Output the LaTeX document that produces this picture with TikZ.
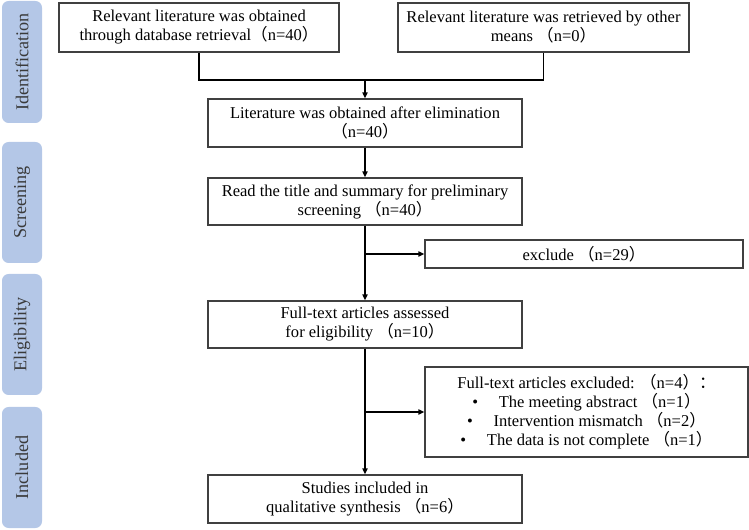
\documentclass[tikz,border=0pt]{standalone}
\usepackage{fontspec}
\setmainfont{Liberation Serif}
\newfontfamily\cjk{Noto Sans CJK SC}
\usetikzlibrary{arrows.meta}
\newcommand{\lp}{{\cjk （}}
\newcommand{\rp}{{\cjk ）}}
\newcommand{\fc}{{\cjk ：}}
\definecolor{phasefill}{HTML}{B4C7E7}
\definecolor{phasetext}{HTML}{3A3A3A}
\definecolor{boxline}{HTML}{404040}
\tikzset{
  box/.style={draw=boxline, line width=0.85pt, fill=white, align=center, inner sep=0pt,
    font=\fontsize{12.4}{14.25}\selectfont},
  phaselabel/.style={text=phasetext, font=\fontsize{13.6}{16}\selectfont, rotate=90},
  conn/.style={draw=black, line width=1.1pt},
  arr/.style={conn, -{Triangle[length=4.5pt, width=3.8pt]}}
}
\begin{document}
\begin{tikzpicture}[x=0.75pt, y=-0.75pt]
\useasboundingbox (0,0) rectangle (749,530);
% phase bars
\fill[phasefill, rounded corners=5pt] (2,1) rectangle (42,123);
\fill[phasefill, rounded corners=5pt] (2,142) rectangle (42,263);
\fill[phasefill, rounded corners=5pt] (2,274) rectangle (42,395);
\fill[phasefill, rounded corners=5pt] (2,407) rectangle (42,528);
\node[phaselabel] (p1) at (22,62) {Identification};
\node[phaselabel] (p2) at (22,202.5) {Screening};
\node[phaselabel] (p3) at (22,334.5) {Eligibility};
\node[phaselabel] (p4) at (22,467.5) {Included};
% boxes
\node[box, minimum width=210pt, minimum height=36.75pt] (b1) at (199,27.5)
  {Relevant literature was obtained\\through database retrieval\lp n=40\rp};
\node[box, minimum width=218.25pt, minimum height=36.75pt] (b2) at (543.5,27.5)
  {Relevant literature was retrieved by other\\means \lp n=0\rp};
\node[box, minimum width=235.5pt, minimum height=36pt] (b3) at (365,123)
  {Literature was obtained after elimination\\\lp n=40\rp};
\node[box, minimum width=235.5pt, minimum height=35.25pt] (b4) at (365,201.5)
  {Read the title and summary for preliminary\\screening \lp n=40\rp};
\node[box, minimum width=238.5pt, minimum height=21pt] (b6) at (584,254)
  {exclude \lp n=29\rp};
\node[box, minimum width=235.5pt, minimum height=35.25pt] (b5) at (365,324.5)
  {Full-text articles assessed\\for eligibility \lp n=10\rp};
\node[box, minimum width=242.25pt, minimum height=67.5pt] (b8) at (586.5,412)
  {Full-text articles excluded: \lp n=4\rp\fc\\
   •\quad\ The meeting abstract \lp n=1\rp\\
   •\quad\ Intervention mismatch \lp n=2\rp\\
   •\quad\ The data is not complete \lp n=1\rp};
\node[box, minimum width=235.5pt, minimum height=36pt] (b7) at (365,499)
  {Studies included in\\qualitative synthesis \lp n=6\rp};
% connectors
\coordinate (j) at (365,80);
\draw[conn] (b1.south) |- (j) -| (b2.south);
\draw[arr] (j) -- (b3.north);
\draw[arr] (b3.south) -- (b4.north);
\draw[arr] (b4.south) -- (b5.north);
\coordinate (k1) at (b4.south |- b6.west);
\draw[arr] (k1) -- (b6.west);
\draw[arr] (b5.south) -- (b7.north);
\coordinate (k2) at (b5.south |- b8.west);
\draw[arr] (k2) -- (b8.west);
\end{tikzpicture}
\end{document}
